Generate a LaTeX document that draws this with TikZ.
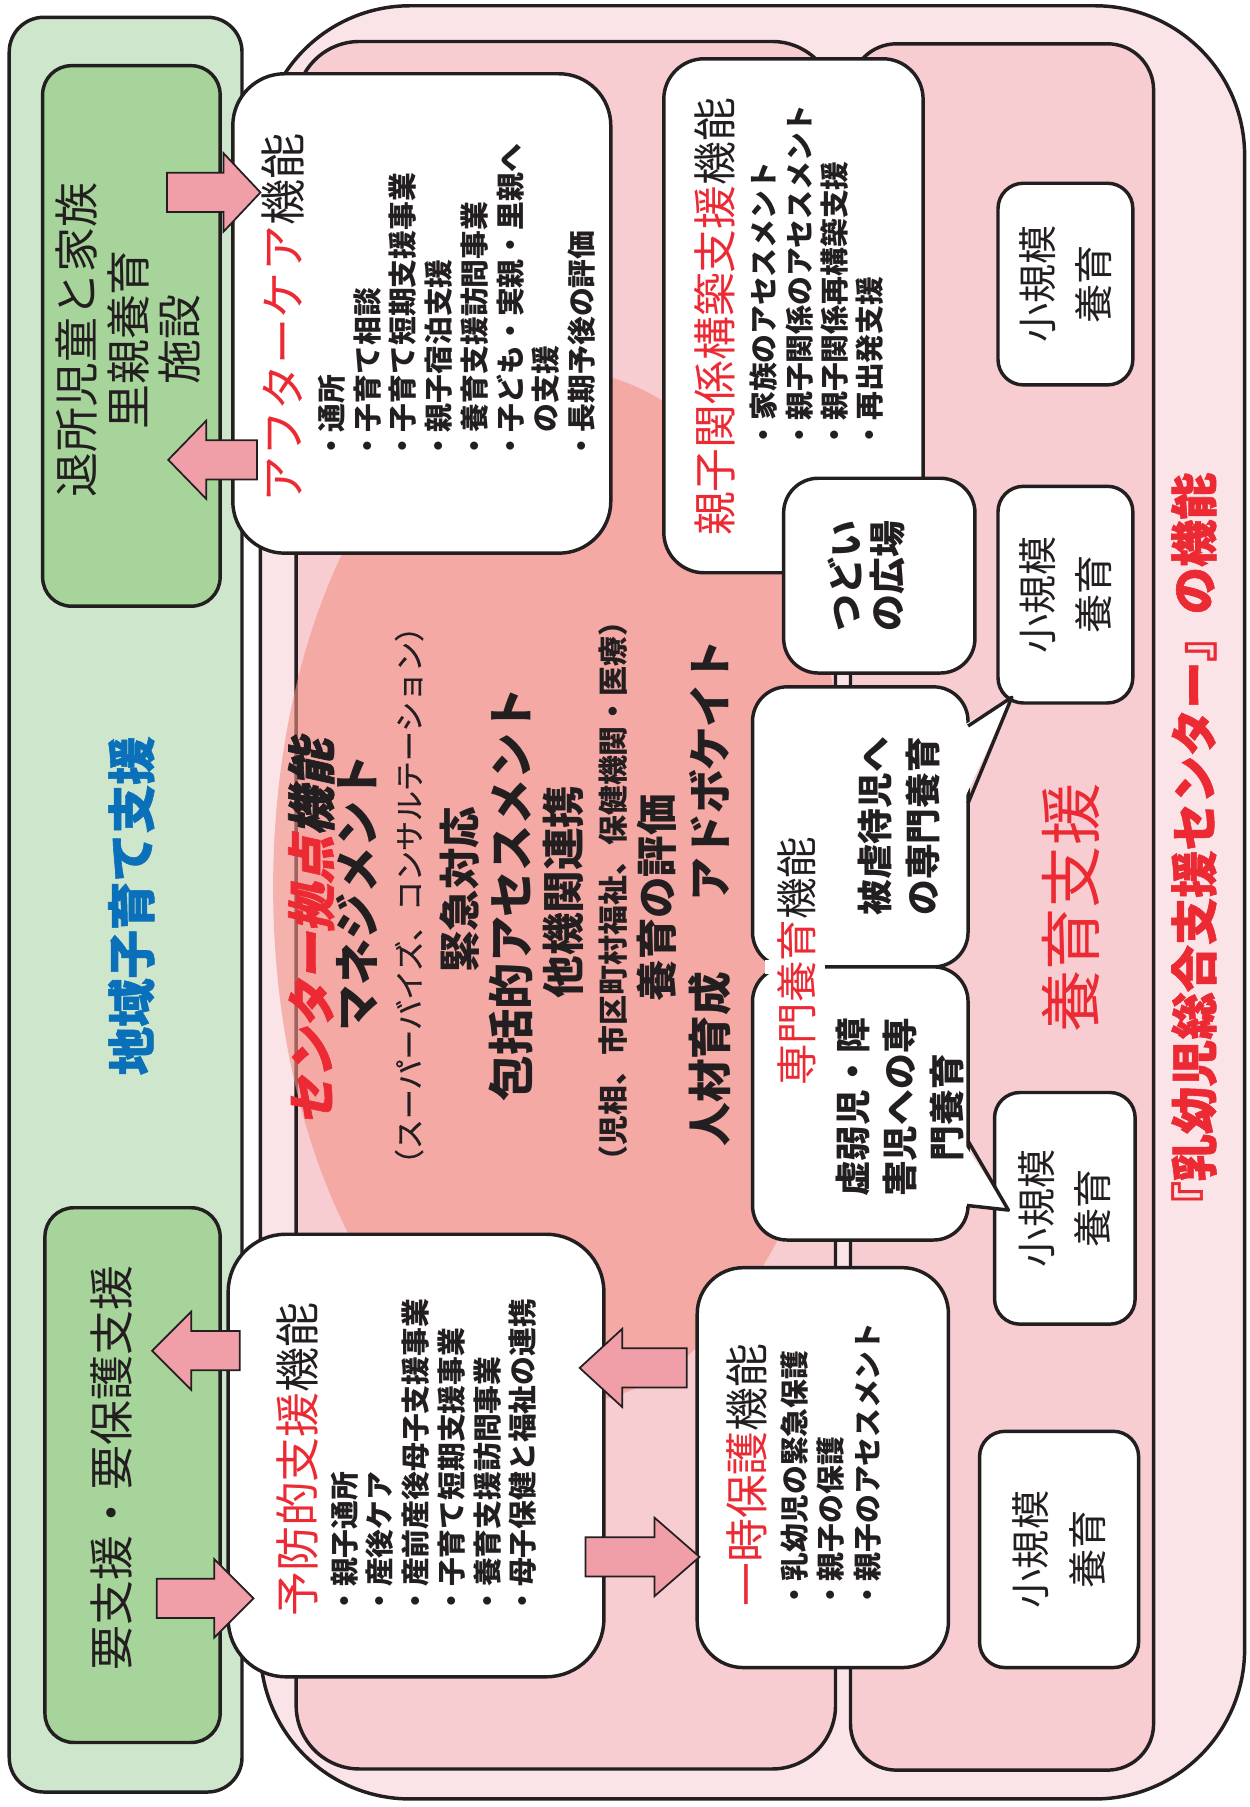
\documentclass[tikz,border=0pt]{standalone}
\usepackage{fontspec}
\newfontfamily\jp{Noto Sans CJK JP}
\newfontfamily\jpsl{Noto Sans CJK JP}[FakeSlant=0.22,FakeBold=1.3]
\newfontfamily\jph{Noto Sans CJK JP}[FakeBold=1.2]
\newfontfamily\jpm{Noto Sans CJK JP}[FakeBold=0.6]
\usetikzlibrary{fit,shapes.geometric}
\definecolor{gout}{RGB}{205,230,204}
\definecolor{gin}{RGB}{166,212,154}
\definecolor{pout}{RGB}{251,228,231}
\definecolor{pin}{RGB}{247,205,210}
\definecolor{ellc}{RGB}{242,145,135}
\definecolor{jred}{RGB}{236,42,52}
\definecolor{jblue}{RGB}{10,112,186}
\definecolor{arrc}{RGB}{240,158,168}
\definecolor{ink}{RGB}{35,31,32}
\tikzset{
  bdr/.style={draw=ink, line width=3pt},
  panel/.style={bdr, inner sep=0pt, outer sep=0pt, rounded corners=#1},
  vt/.style={rotate=90, inner sep=0pt, outer sep=0pt, text=ink},
  ttl/.style={vt, anchor=west, font=\jp\fontsize{#1}{#1}\selectfont},
  lst/.style={vt, anchor=north west, align=left, font=\jp\bfseries\fontsize{25}{#1}\selectfont},
  arrowst/.style={fill=arrc, draw=ink, line width=1.5pt, line join=miter},
  smallt/.style={vt, align=center, font=\jp\fontsize{34}{49}\selectfont},
}
\newcommand\bkarrow[4]{\draw[arrowst] (#1,#4-17) -- (#2,#4-17) -- (#2,#4-34) -- (#3,#4) -- (#2,#4+34) -- (#2,#4+17) -- (#1,#4+17) -- cycle;}
\begin{document}
\begin{tikzpicture}[x=1pt,y=-1pt]
\useasboundingbox (0,0) rectangle (1084,1568);
\fill[white] (0,0) rectangle (1084,1568);
% green region
\node[panel=30pt, fill=gout, fit={(8,15) (210,1555)}] (local) {};
\node[panel=25pt, fill=gin, fit={(37,57) (191,526)}] (home) {};
\node[panel=25pt, fill=gin, fit={(39,1048) (191,1512)}] (needs) {};
% pink regions
\node[panel=130pt, fill=pout, fit={(226,5) (1080,1561)}] (center) {};
\node[panel=55pt, fill=pin, fit={(257,36) (725,1535)}] (corearea) {};
\node[panel=40pt, fill=pin, fit={(738,38) (1001,1536)}] (carearea) {};
% core ellipse
\node[ellipse, fill=ellc, fill opacity=0.6, minimum width=506pt, minimum height=896pt, inner sep=0pt] (core) at (490,770) {};
% white boxes
\node[panel=45pt, fill=white, fit={(202,64) (530,480)}] (after) {};
\node[panel=50pt, fill=white, fit={(198,1071) (524,1455)}] (prev) {};
\node[panel=40pt, fill=white, fit={(605,1100) (823,1447)}] (temp) {};
\node[panel=35pt, fill=white, fit={(576,51) (801,497)}] (rel) {};
\node[panel=30pt, fill=white, fit={(680,415) (846,584)}] (tsudoi) {};
\node[panel=22pt, fill=white, fit={(866,159) (983,334)}] (s1) {};
\node[panel=22pt, fill=white, fit={(866,422) (983,610)}] (s2) {};
\node[panel=22pt, fill=white, fit={(863,948) (985,1149)}] (s3) {};
\node[panel=22pt, fill=white, fit={(850,1242) (988,1447)}] (s4) {};
% speech bubbles
\node[panel=30pt, fill=white, fit={(653,596) (840,839)}] (bubB) {};
\node[panel=30pt, fill=white, fit={(653,839) (840,1076)}] (bubA) {};
\coordinate (tipB) at (878,605);
\coordinate (tipA) at (875,1050);
\fill[white] (835,630) -- (tipB) -- (835,697) -- cycle;
\draw[bdr, line join=round] (840,630) -- (tipB) -- (840,697);
\fill[white] (835,990) -- (tipA) -- (835,1046) -- cycle;
\draw[bdr, line join=round] (840,990) -- (tipA) -- (839,1046);
\fill[white] (664,833) rectangle (716,845);
% green texts
\node[vt, align=center, font=\jp\fontsize{39}{45}\selectfont] (thome) at (111,295) {退所児童と家族\\里親養育\\施設};
\node[vt, font=\jp\fontsize{39}{39}\selectfont] (tneeds) at (97,1274) {要支援・要保護支援};
\node[vt, font=\jph\bfseries\fontsize{42}{42}\selectfont, text=jblue] (tlocal) at (114,786) {地域子育て支援};
% titles and lists
\node[ttl=40] (tafter) at (246,436) {\textcolor{jred}{アフターケア}機能};
\node[lst=31] (lafter) at (276,400) {・通所\\・子育て相談\\・子育て短期支援事業\\・親子宿泊支援\\・養育支援訪問事業\\・子ども・実親・里親へ\\\hspace*{1em}の支援\\・長期予後の評価};
\node[ttl=39] (tprev) at (258,1403) {\textcolor{jred}{予防的支援}機能};
\node[lst=31] (lprev) at (287,1402) {・親子通所\\・産後ケア\\・産前産後母子支援事業\\・子育て短期支援事業\\・養育支援訪問事業\\・母子保健と福祉の連携};
\node[ttl=38] (ttemp) at (648,1394) {\textcolor{jred}{一時保護}機能};
\node[lst=32] (ltemp) at (677,1397) {・乳幼児の緊急保護\\・親子の保護\\・親子のアセスメント};
\node[ttl=38] (trel) at (620,465) {\textcolor{jred}{親子関係構築支援}機能};
\node[lst=30.5] (lrel) at (651,390) {・家族のアセスメント\\・親子関係のアセスメント\\・親子関係再構築支援\\・再出発支援};
\node[ttl=36] (tspec) at (691,942) {\textcolor{jred}{専門養育}機能};
\node[vt, align=center, font=\jp\bfseries\fontsize{31}{41}\selectfont] (tbubA) at (781,961) {虚弱児・障\\害児への専\\門養育};
\node[vt, align=center, font=\jp\bfseries\fontsize{31}{42}\selectfont] (tbubB) at (780,717) {被虐待児へ\\の専門養育};
\node[vt, align=center, font=\jp\bfseries\fontsize{32}{37}\selectfont] (ttsudoi) at (752,500) {つどい\\の広場};
\node[smallt] (ts1) at (s1) {小規模\\養育};
\node[smallt] (ts2) at (s2) {小規模\\養育};
\node[smallt] (ts3) at (s3) {小規模\\養育};
\node[smallt] (ts4) at (s4) {小規模\\養育};
\node[vt, font=\jp\fontsize{54}{54}\selectfont, text=jred] (tcare) at (929,788) {養育支援};
\node[vt, font=\jph\bfseries\fontsize{41}{41}\selectfont, text=jred] (tcenter) at (1036,738) {『乳幼児総合支援センター』の機能};
% core texts
\node[vt, font=\jpsl\bfseries\fontsize{42}{42}\selectfont] (c1) at (270,809) {\textcolor{jred}{センター拠点}機能};
\node[vt, font=\jp\bfseries\fontsize{40}{40}\selectfont] (c2) at (310,775) {マネジメント};
\node[vt, font=\jpm\fontsize{26}{26}\selectfont] (c3) at (355,777) {（スーパーバイズ、コンサルテーション）};
\node[vt, font=\jp\bfseries\fontsize{36}{36}\selectfont] (c4) at (399,772) {緊急対応};
\node[vt, font=\jp\bfseries\fontsize{40}{40}\selectfont] (c5) at (443,776) {包括的アセスメント};
\node[vt, font=\jp\bfseries\fontsize{37}{37}\selectfont] (c6) at (489,774) {他機関連携};
\node[vt, font=\jp\bfseries\fontsize{26}{26}\selectfont] (c7) at (532,773) {（児相、市区町村福祉、保健機関・医療）};
\node[vt, font=\jp\bfseries\fontsize{36}{36}\selectfont] (c8) at (570,779) {養育の評価};
\node[vt, font=\jp\bfseries\fontsize{38}{38}\selectfont] (c9) at (616,775) {人材育成\hspace{1.6em}アドボケイト};
% block arrows
\bkarrow{145}{194}{226}{167}
\bkarrow{223}{179}{146}{399}
\bkarrow{208}{166}{132}{1172}
\bkarrow{136}{186}{220}{1387}
\bkarrow{596}{540}{503}{1187}
\bkarrow{508}{568}{607}{1351}
\end{tikzpicture}
\end{document}
